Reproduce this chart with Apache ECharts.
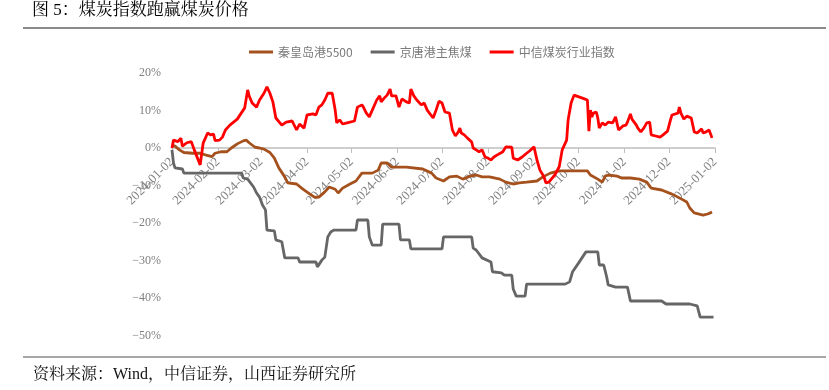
<!DOCTYPE html>
<html>
<head>
<meta charset="utf-8">
<script src="https://cdn.jsdelivr.net/npm/echarts@6/dist/echarts.min.js"></script>
<style>
html,body{margin:0;padding:0;background:#fff;}
#chart{width:829px;height:390px;}
</style>
</head>
<body>
<div id="chart"></div>
<script>
// ---------- DATA ----------
const titleText = '图 5：煤炭指数跑赢煤炭价格';
const sourceText = '资料来源：Wind，中信证券，山西证券研究所';
const seriesNames = ['秦皇岛港5500', '京唐港主焦煤', '中信煤炭行业指数'];
const seriesColors = ['#A5511D', '#666666', '#FF0000'];

const yTicks = [-50, -40, -30, -20, -10, 0, 10, 20];
const xTickLabels = ['2024-01-02','2024-02-02','2024-03-02','2024-04-02','2024-05-02','2024-06-02','2024-07-02','2024-08-02','2024-09-02','2024-10-02','2024-11-02','2024-12-02','2025-01-02'];

// 秦皇岛港5500 (% change since 2024-01-02)
const qhdDates = ['2024-01-02','2024-01-04','2024-01-07','2024-01-10','2024-01-16','2024-01-21','2024-01-25','2024-01-29','2024-01-31','2024-02-04','2024-02-08','2024-02-11','2024-02-15','2024-02-19','2024-02-21','2024-02-23','2024-02-27','2024-03-01','2024-03-04','2024-03-08','2024-03-11','2024-03-14','2024-03-18','2024-03-20','2024-03-26','2024-03-30','2024-04-04','2024-04-07','2024-04-10','2024-04-14','2024-04-17','2024-04-21','2024-04-23','2024-04-26','2024-05-01','2024-05-05','2024-05-09','2024-05-16','2024-05-20','2024-05-22','2024-05-26','2024-05-29','2024-06-08','2024-06-19','2024-06-25','2024-06-28','2024-07-03','2024-07-07','2024-07-12','2024-07-16','2024-07-21','2024-07-25','2024-07-29','2024-08-03','2024-08-10','2024-08-14','2024-08-19','2024-08-23','2024-08-28','2024-09-04','2024-09-08','2024-09-13','2024-09-19','2024-09-24','2024-10-08','2024-10-10','2024-10-15','2024-10-18','2024-10-20','2024-10-22','2024-10-28','2024-10-31','2024-11-06','2024-11-12','2024-11-17','2024-11-20','2024-11-27','2024-12-04','2024-12-09','2024-12-14','2024-12-16','2024-12-19','2024-12-25','2024-12-28','2024-12-31'];
const qhdValues = [0.8,0.5,-0.5,-1.2,-1.4,-1.4,-1.9,-2.3,-1.4,-1.0,-1.0,0.0,1.1,1.9,2.1,1.4,0.2,0.0,-0.3,-1.2,-2.7,-5.3,-7.7,-9.3,-9.6,-10.9,-12.3,-13.1,-13.1,-11.7,-10.4,-11.0,-12.0,-10.7,-9.6,-8.8,-6.7,-6.7,-5.9,-4.0,-4.0,-5.1,-5.1,-5.6,-6.7,-8.0,-8.8,-7.7,-7.5,-8.3,-7.5,-7.2,-7.7,-7.7,-8.3,-9.1,-9.6,-9.3,-9.1,-8.8,-7.7,-6.7,-6.1,-6.1,-6.1,-7.2,-8.3,-9.1,-7.5,-7.2,-7.5,-8.0,-8.0,-8.3,-9.1,-10.7,-11.2,-12.3,-13.3,-14.4,-16.0,-17.3,-17.9,-17.6,-17.1];

// 京唐港主焦煤
const jtDates = ['2024-01-02','2024-01-03','2024-01-04','2024-01-09','2024-01-10','2024-02-18','2024-02-19','2024-02-22','2024-02-26','2024-02-28','2024-03-01','2024-03-03','2024-03-05','2024-03-06','2024-03-11','2024-03-12','2024-03-16','2024-03-18','2024-03-27','2024-03-28','2024-04-08','2024-04-09','2024-04-12','2024-04-14','2024-04-16','2024-04-18','2024-04-20','2024-05-05','2024-05-06','2024-05-13','2024-05-14','2024-05-16','2024-05-22','2024-05-23','2024-06-03','2024-06-04','2024-06-10','2024-06-11','2024-07-02','2024-07-03','2024-07-22','2024-07-23','2024-07-25','2024-07-29','2024-08-04','2024-08-05','2024-08-11','2024-08-13','2024-08-18','2024-08-19','2024-08-21','2024-08-27','2024-08-28','2024-09-23','2024-09-26','2024-09-28','2024-10-02','2024-10-07','2024-10-15','2024-10-16','2024-10-19','2024-10-21','2024-10-22','2024-10-27','2024-11-04','2024-11-06','2024-11-27','2024-11-30','2024-12-16','2024-12-21','2024-12-23','2025-01-01'];
const jtValues = [-0.5,-4.0,-5.3,-5.6,-6.7,-6.7,-8.0,-8.3,-10.4,-12.0,-13.1,-15.2,-16.5,-21.9,-22.1,-24.5,-25.0,-29.3,-29.3,-30.4,-30.4,-31.7,-29.9,-29.1,-23.7,-22.4,-21.9,-21.9,-19.2,-19.2,-23.7,-25.9,-25.9,-20.3,-20.3,-24.5,-24.5,-26.9,-26.9,-23.7,-23.7,-26.7,-27.2,-29.3,-30.4,-33.0,-33.3,-33.9,-33.9,-37.6,-39.5,-39.5,-36.3,-36.3,-35.7,-33.0,-30.7,-27.7,-27.7,-31.2,-31.2,-34.4,-36.5,-37.1,-37.1,-40.8,-40.8,-41.6,-41.6,-42.1,-45.1,-45.1];

// 中信煤炭行业指数
const citicDates = ['2024-01-02','2024-01-03','2024-01-06','2024-01-08','2024-01-09','2024-01-12','2024-01-15','2024-01-17','2024-01-21','2024-01-23','2024-01-26','2024-01-28','2024-01-30','2024-01-31','2024-02-03','2024-02-05','2024-02-07','2024-02-10','2024-02-15','2024-02-19','2024-02-20','2024-02-22','2024-02-23','2024-02-25','2024-02-28','2024-03-01','2024-03-04','2024-03-06','2024-03-08','2024-03-10','2024-03-12','2024-03-13','2024-03-16','2024-03-17','2024-03-19','2024-03-23','2024-03-24','2024-03-26','2024-03-27','2024-03-28','2024-03-31','2024-04-02','2024-04-06','2024-04-08','2024-04-10','2024-04-12','2024-04-14','2024-04-16','2024-04-19','2024-04-21','2024-04-22','2024-04-24','2024-04-26','2024-04-29','2024-04-30','2024-05-04','2024-05-06','2024-05-09','2024-05-10','2024-05-12','2024-05-14','2024-05-16','2024-05-19','2024-05-21','2024-05-22','2024-05-24','2024-05-26','2024-05-28','2024-05-29','2024-06-01','2024-06-03','2024-06-05','2024-06-08','2024-06-10','2024-06-11','2024-06-13','2024-06-15','2024-06-18','2024-06-20','2024-06-22','2024-06-26','2024-06-28','2024-06-30','2024-07-02','2024-07-04','2024-07-07','2024-07-09','2024-07-11','2024-07-13','2024-07-14','2024-07-15','2024-07-17','2024-07-19','2024-07-22','2024-07-23','2024-07-25','2024-07-27','2024-07-29','2024-07-31','2024-08-02','2024-08-04','2024-08-06','2024-08-08','2024-08-12','2024-08-14','2024-08-18','2024-08-19','2024-08-22','2024-08-25','2024-08-28','2024-08-30','2024-09-02','2024-09-04','2024-09-06','2024-09-08','2024-09-09','2024-09-10','2024-09-12','2024-09-16','2024-09-19','2024-09-21','2024-09-24','2024-09-25','2024-09-27','2024-09-29','2024-10-06','2024-10-08','2024-10-09','2024-10-10','2024-10-11','2024-10-12','2024-10-14','2024-10-15','2024-10-16','2024-10-18','2024-10-20','2024-10-22','2024-10-25','2024-10-26','2024-10-27','2024-10-29','2024-11-01','2024-11-03','2024-11-04','2024-11-06','2024-11-07','2024-11-10','2024-11-11','2024-11-13','2024-11-15','2024-11-17','2024-11-19','2024-11-20','2024-11-23','2024-11-24','2024-11-26','2024-11-28','2024-12-01','2024-12-03','2024-12-04','2024-12-08','2024-12-09','2024-12-10','2024-12-12','2024-12-14','2024-12-17','2024-12-19','2024-12-21','2024-12-24','2024-12-25','2024-12-27','2024-12-29','2024-12-31'];
const citicValues = [0.0,2.1,1.7,2.6,0.5,1.4,1.7,-0.5,-4.5,1.3,4.0,3.5,3.7,2.0,2.1,2.9,4.8,6.1,7.7,10.1,10.7,15.5,13.9,12.0,10.9,12.8,14.6,16.3,14.6,12.3,8.0,7.5,6.1,5.6,6.9,7.2,6.9,4.8,4.5,6.4,5.3,8.8,9.1,8.8,10.9,11.5,12.8,14.6,14.6,10.1,6.7,7.5,6.4,6.7,6.9,7.2,10.9,11.5,10.9,9.3,8.3,10.1,12.8,13.9,12.3,13.3,14.1,15.7,13.9,13.9,10.9,13.1,12.3,12.0,15.7,13.9,12.8,11.5,12.0,10.1,8.0,10.1,12.5,12.0,9.6,9.3,4.8,3.2,4.3,5.3,4.0,3.5,2.7,1.6,0.0,-0.5,-1.0,-0.5,-2.4,-2.7,-3.2,-2.4,-1.9,-1.0,0.3,0.2,-2.7,-3.2,-2.4,-1.4,-0.8,0.3,-3.2,-5.9,-7.2,-8.0,-9.3,-9.1,-7.2,-5.0,-0.5,2.1,7.5,12.0,14.1,13.1,12.8,4.5,10.1,8.3,9.3,9.6,8.0,5.3,6.7,6.1,6.9,6.7,6.9,8.3,4.8,5.9,6.1,6.9,9.1,7.7,6.1,5.3,4.3,5.3,6.7,6.9,3.5,3.2,3.7,2.9,3.5,4.5,7.5,8.8,9.3,10.9,9.3,7.7,8.5,8.0,4.3,4.0,5.1,4.0,4.3,4.8,2.7];

// ---------- CHART ----------
function zip(d, v) { return d.map((x, i) => [x, v[i]]); }
function ts(s) { const p = s.split('-').map(Number); return new Date(p[0], p[1] - 1, p[2]).getTime(); }
function pad(n) { return (n < 10 ? '0' : '') + n; }

const chart = echarts.init(document.getElementById('chart'), null, { renderer: 'canvas' });
const serifFont = '"Liberation Serif", "Times New Roman", "Noto Sans CJK SC", serif';
const cjkFont = '"Liberation Serif", "Noto Serif CJK SC", "Noto Sans CJK SC", serif';
const tickTs = xTickLabels.map(ts);
const xMin = tickTs[0], xMax = tickTs[tickTs.length - 1];

// plot area geometry: 20% at y=73, -50% at y=335.5 -> 0% at y=148
const plotTop = 73, plotBottomGap = 54.5;
const zeroGridHeight = 75; // height from top of plot to 0% line

const option = {
  animation: false,
  backgroundColor: '#ffffff',
  color: seriesColors,
  graphic: [
    { type: 'text', left: 32, top: 2, style: { text: titleText, font: '17px ' + cjkFont, fill: '#000' } },
    { type: 'line', shape: { x1: 23, y1: 28, x2: 826, y2: 28 }, style: { stroke: '#8a8a8a', lineWidth: 2 } },
    { type: 'line', shape: { x1: 23, y1: 357, x2: 826, y2: 357 }, style: { stroke: '#8a8a8a', lineWidth: 1.5 } },
    { type: 'text', left: 33, top: 367, style: { text: sourceText, font: '16px ' + cjkFont, fill: '#111' } }
  ],
  legend: {
    top: 41,
    left: 244,
    icon: 'rect',
    itemWidth: 24,
    itemHeight: 3,
    itemGap: 18,
    textStyle: { color: '#7a7a7a', fontSize: 12, fontFamily: '"Noto Sans CJK SC", sans-serif' },
    data: seriesNames
  },
  grid: [
    { left: 172, right: 114, top: plotTop, bottom: plotBottomGap },
    { left: 172, right: 114, top: plotTop, height: zeroGridHeight }
  ],
  xAxis: [
    { gridIndex: 0, type: 'value', min: xMin, max: xMax, show: false, splitLine: { show: false } },
    {
      gridIndex: 1,
      type: 'value',
      min: xMin,
      max: xMax,
      position: 'bottom',
      axisLine: { onZero: false, lineStyle: { color: '#bfbfbf', width: 1.5 } },
      axisTick: { show: true, length: 5, lineStyle: { color: '#bfbfbf' }, customValues: tickTs },
      splitLine: { show: false },
      axisLabel: {
        rotate: 45,
        margin: 12,
        color: '#808080',
        fontSize: 13,
        fontFamily: serifFont,
        customValues: tickTs,
        formatter: function (val) {
          const d = new Date(val);
          return d.getFullYear() + '-' + pad(d.getMonth() + 1) + '-' + pad(d.getDate());
        }
      }
    }
  ],
  yAxis: [
    {
      gridIndex: 0,
      type: 'value',
      min: yTicks[0],
      max: yTicks[yTicks.length - 1],
      interval: 10,
      axisLine: { show: false },
      axisTick: { show: false },
      splitLine: { show: false },
      axisLabel: {
        margin: 11,
        color: '#808080',
        fontSize: 12,
        fontFamily: serifFont,
        formatter: function (v) { return (v < 0 ? '\u2212' + Math.abs(v) : v) + '%'; }
      }
    },
    { gridIndex: 1, type: 'value', min: 0, max: 1, show: false, splitLine: { show: false } }
  ],
  series: [
    { name: seriesNames[0], type: 'line', xAxisIndex: 0, yAxisIndex: 0, showSymbol: false, data: zip(qhdDates.map(ts), qhdValues), lineStyle: { width: 2.8, color: seriesColors[0] }, itemStyle: { color: seriesColors[0] } },
    { name: seriesNames[1], type: 'line', xAxisIndex: 0, yAxisIndex: 0, showSymbol: false, data: zip(jtDates.map(ts), jtValues), lineStyle: { width: 2.8, color: seriesColors[1] }, itemStyle: { color: seriesColors[1] } },
    { name: seriesNames[2], type: 'line', xAxisIndex: 0, yAxisIndex: 0, showSymbol: false, data: zip(citicDates.map(ts), citicValues), lineStyle: { width: 2.8, color: seriesColors[2] }, itemStyle: { color: seriesColors[2] } }
  ]
};
chart.setOption(option);
</script>
</body>
</html>
